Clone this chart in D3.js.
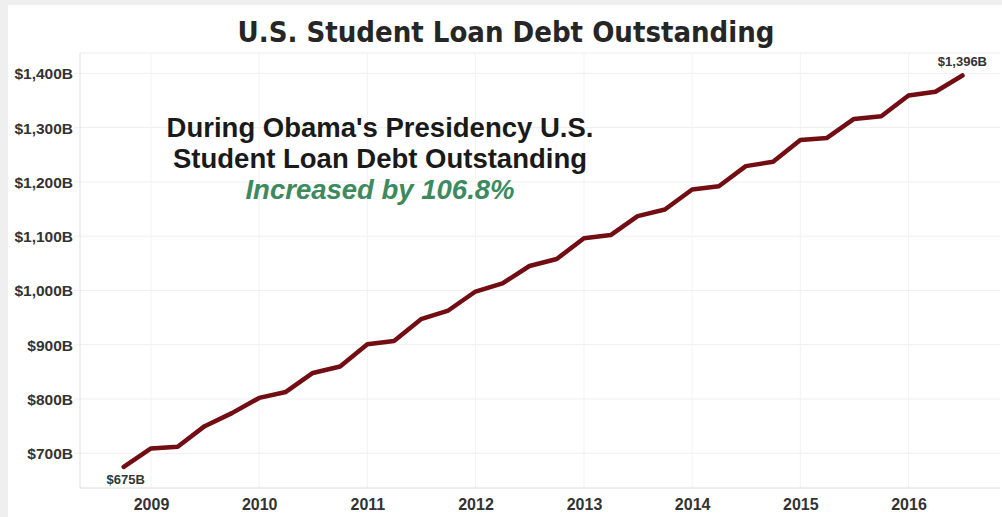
<!DOCTYPE html>
<html><head><meta charset="utf-8">
<script src="https://cdn.jsdelivr.net/npm/d3@7"></script>
<style>html,body{margin:0;padding:0;background:#efefef;}svg{display:block;}</style>
</head><body>
<svg id="chart" width="1002" height="517"></svg>
<script>
// ---- data ----
const quarters = ["2008-10-01","2009-01-01","2009-04-01","2009-07-01","2009-10-01","2010-01-01","2010-04-01","2010-07-01",
  "2010-10-01","2011-01-01","2011-04-01","2011-07-01","2011-10-01","2012-01-01","2012-04-01","2012-07-01",
  "2012-10-01","2013-01-01","2013-04-01","2013-07-01","2013-10-01","2014-01-01","2014-04-01","2014-07-01",
  "2014-10-01","2015-01-01","2015-04-01","2015-07-01","2015-10-01","2016-01-01","2016-04-01","2016-07-01"];
const debt = [675, 709, 712, 750, 774, 802, 813, 848, 860, 901, 907, 947, 963, 998, 1013, 1045,
  1058, 1096, 1102, 1137, 1149, 1186, 1192, 1229, 1237, 1277, 1281, 1316, 1321, 1359, 1366, 1396];
const yTicks = [700, 800, 900, 1000, 1100, 1200, 1300, 1400];
const yTickLabels = ["$700B","$800B","$900B","$1,000B","$1,100B","$1,200B","$1,300B","$1,400B"];
const xTickYears = ["2009","2010","2011","2012","2013","2014","2015","2016"];
const title = "U.S. Student Loan Debt Outstanding";
const noteLines = ["During Obama's Presidency U.S.", "Student Loan Debt Outstanding"];
const noteHighlight = "Increased by 106.8%";
const firstLabel = "$675B", lastLabel = "$1,396B";

// ---- layout ----
const svg = d3.select("#chart");
const W = 1002, H = 517;
const plot = {left: 80, right: 1000, top: 53, bottom: 488};
const parse = d3.timeParse("%Y-%m-%d");
const dates = quarters.map(parse);
const tickDates = xTickYears.map(y => parse(y + "-01-01"));
const sans = "Liberation Sans, Arial, sans-serif";

const x = d3.scaleTime()
  .domain([parse("2009-01-01"), parse("2016-01-01")])
  .range([151, 908.5]);
const y = d3.scaleLinear().domain([700, 1400]).range([453.3, 73.3]);

svg.append("rect").attr("x", 8).attr("y", 5).attr("width", W - 8).attr("height", H - 5).attr("fill", "#fff");

// gridlines
svg.append("g").selectAll("line").data(yTicks).join("line")
  .attr("x1", 74).attr("x2", plot.right)
  .attr("y1", d => y(d)).attr("y2", d => y(d))
  .attr("stroke", "#efefef").attr("stroke-width", 1);
svg.append("g").selectAll("line").data(tickDates).join("line")
  .attr("x1", d => x(d)).attr("x2", d => x(d))
  .attr("y1", plot.top).attr("y2", plot.bottom)
  .attr("stroke", "#f3f3f3").attr("stroke-width", 1);

// frame
svg.append("line").attr("x1", plot.left).attr("x2", plot.left).attr("y1", plot.top).attr("y2", plot.bottom)
  .attr("stroke", "#e2e2e2");
svg.append("line").attr("x1", plot.left).attr("x2", plot.right).attr("y1", plot.bottom).attr("y2", plot.bottom)
  .attr("stroke", "#dcdcdc");
svg.append("line").attr("x1", plot.left).attr("x2", plot.right).attr("y1", plot.top).attr("y2", plot.top)
  .attr("stroke", "#ececec");

// y axis labels
const yAxis = d3.axisLeft(y).tickValues(yTicks).tickFormat((d, i) => yTickLabels[i]).tickSize(0).tickPadding(0);
const gy = svg.append("g").attr("transform", "translate(73,0)").call(yAxis);
gy.select(".domain").remove();
gy.selectAll("text").attr("font-family", sans).attr("font-weight", "bold")
  .attr("font-size", 15.5).attr("fill", "#333").attr("dy", "0.35em");

// x axis labels
const xAxis = d3.axisBottom(x).tickValues(tickDates).tickFormat((d, i) => xTickYears[i]).tickSize(0).tickPadding(0);
const gx = svg.append("g").attr("transform", `translate(0,${plot.bottom})`).call(xAxis);
gx.select(".domain").remove();
gx.selectAll("text").attr("font-family", sans).attr("font-weight", "bold")
  .attr("font-size", 16).attr("fill", "#333").attr("dy", null).attr("y", 22);

// line
const line = d3.line().x((d, i) => x(dates[i])).y(d => y(d));
svg.append("path").datum(debt).attr("d", line).attr("fill", "none")
  .attr("stroke", "#730d14").attr("stroke-width", 4.5).attr("stroke-linejoin", "round").attr("stroke-linecap", "round");

// endpoint labels
svg.append("text").attr("x", x(dates[0]) + 2).attr("y", y(debt[0]) + 17).attr("text-anchor", "middle")
  .attr("font-family", sans).attr("font-weight", "bold").attr("font-size", 13)
  .attr("fill", "#2f3a34").text(firstLabel);
svg.append("text").attr("x", x(dates[dates.length - 1])).attr("y", y(debt[debt.length - 1]) - 9).attr("text-anchor", "middle")
  .attr("font-family", sans).attr("font-weight", "bold").attr("font-size", 13)
  .attr("fill", "#333").text(lastLabel);

// title
svg.append("text").attr("x", 506).attr("y", 42).attr("text-anchor", "middle")
  .attr("font-family", "DejaVu Sans Condensed, DejaVu Sans, sans-serif").attr("font-weight", "bold")
  .attr("font-size", 29).attr("fill", "#262626").text(title);

// annotation
const noteG = svg.append("g").attr("font-family", sans).attr("font-weight", "bold")
  .attr("text-anchor", "middle");
noteG.selectAll("text.n").data(noteLines).join("text").attr("class", "n")
  .attr("x", 380).attr("y", (d, i) => 137 + i * 31).attr("font-size", 27.5).attr("fill", "#1a1a1a").text(d => d);
noteG.append("text").attr("x", 380).attr("y", 199).attr("font-size", 27.5).attr("font-style", "italic")
  .attr("fill", "#3d8a5f").text(noteHighlight);
</script>
</body></html>
